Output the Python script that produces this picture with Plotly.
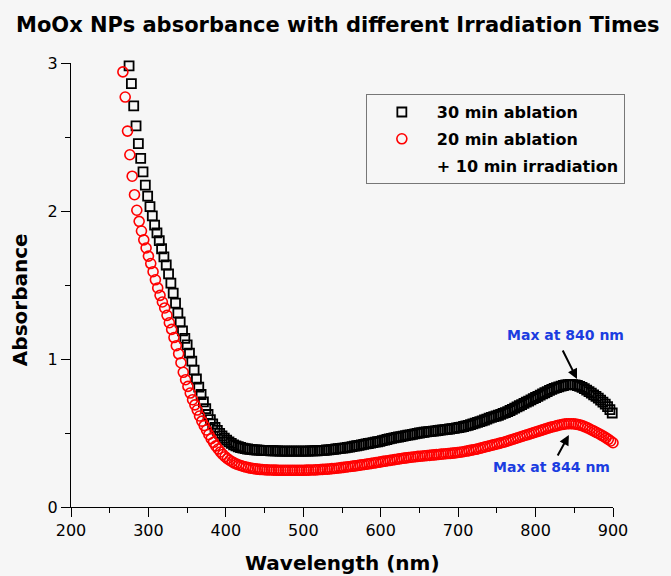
import plotly.graph_objects as go

# ---- data ----
black_start, black_step = 275, 3   # 30 min ablation: 275 .. 899 nm
black_abs = [
    2.98, 2.86, 2.71, 2.575, 2.455, 2.355, 2.265, 2.175, 2.10, 2.03,
    1.967, 1.905, 1.852, 1.80, 1.745, 1.69, 1.635, 1.575, 1.512, 1.445,
    1.378, 1.31, 1.25, 1.19, 1.14, 1.095, 1.04, 0.985, 0.925, 0.865,
    0.81, 0.76, 0.71, 0.665, 0.625, 0.59, 0.562, 0.538, 0.518, 0.498,
    0.48, 0.465, 0.452, 0.44, 0.43, 0.42, 0.413, 0.407, 0.402, 0.398,
    0.395, 0.392, 0.39, 0.388, 0.386, 0.385, 0.384, 0.383, 0.382, 0.381,
    0.381, 0.38, 0.38, 0.379, 0.379, 0.378, 0.378, 0.377, 0.377, 0.377,
    0.377, 0.377, 0.377, 0.377, 0.377, 0.377, 0.378, 0.378, 0.379, 0.379,
    0.38, 0.38, 0.381, 0.382, 0.383, 0.385, 0.386, 0.388, 0.39, 0.392,
    0.394, 0.396, 0.398, 0.40, 0.403, 0.405, 0.408, 0.411, 0.414, 0.417,
    0.42, 0.423, 0.426, 0.429, 0.432, 0.435, 0.438, 0.441, 0.444, 0.448,
    0.452, 0.456, 0.46, 0.464, 0.467, 0.47, 0.473, 0.476, 0.479, 0.482,
    0.485, 0.488, 0.491, 0.494, 0.497, 0.50, 0.502, 0.505, 0.507, 0.509,
    0.511, 0.513, 0.515, 0.517, 0.519, 0.521, 0.523, 0.525, 0.527, 0.529,
    0.531, 0.534, 0.537, 0.54, 0.544, 0.548, 0.552, 0.557, 0.562, 0.567,
    0.572, 0.577, 0.582, 0.588, 0.594, 0.60, 0.605, 0.61, 0.615, 0.62,
    0.626, 0.632, 0.638, 0.645, 0.652, 0.66, 0.668, 0.676, 0.684, 0.692,
    0.70, 0.708, 0.716, 0.724, 0.732, 0.74, 0.748, 0.756, 0.764, 0.772,
    0.78, 0.788, 0.795, 0.801, 0.807, 0.812, 0.817, 0.821, 0.825, 0.827,
    0.828, 0.827, 0.825, 0.821, 0.815, 0.808, 0.80, 0.79, 0.78, 0.769,
    0.758, 0.747, 0.735, 0.722, 0.709, 0.695, 0.678, 0.658, 0.635,
]

red_start, red_step = 267, 3       # 20 min ablation + 10 min irradiation: 267 .. 900 nm
red_abs = [
    2.94, 2.77, 2.54, 2.38, 2.235, 2.11, 2.005, 1.93, 1.865, 1.805,
    1.75, 1.695, 1.645, 1.59, 1.535, 1.48, 1.43, 1.385, 1.345, 1.295,
    1.245, 1.20, 1.145, 1.09, 1.035, 0.975, 0.91, 0.86, 0.815, 0.77,
    0.725, 0.69, 0.655, 0.615, 0.58, 0.55, 0.52, 0.49, 0.462, 0.437,
    0.413, 0.392, 0.372, 0.355, 0.34, 0.327, 0.316, 0.306, 0.297, 0.29,
    0.284, 0.279, 0.274, 0.27, 0.266, 0.263, 0.26, 0.258, 0.256, 0.254,
    0.253, 0.252, 0.251, 0.25, 0.25, 0.249, 0.249, 0.248, 0.248, 0.248,
    0.248, 0.248, 0.248, 0.248, 0.248, 0.248, 0.248, 0.248, 0.248, 0.249,
    0.249, 0.25, 0.25, 0.251, 0.252, 0.253, 0.254, 0.255, 0.256, 0.257,
    0.259, 0.26, 0.262, 0.264, 0.266, 0.268, 0.27, 0.272, 0.274, 0.276,
    0.278, 0.28, 0.283, 0.285, 0.287, 0.29, 0.292, 0.295, 0.297, 0.30,
    0.302, 0.305, 0.308, 0.31, 0.313, 0.315, 0.318, 0.32, 0.323, 0.325,
    0.328, 0.33, 0.332, 0.334, 0.336, 0.338, 0.34, 0.342, 0.343, 0.345,
    0.346, 0.348, 0.349, 0.351, 0.352, 0.354, 0.355, 0.357, 0.358, 0.36,
    0.361, 0.362, 0.364, 0.366, 0.368, 0.37, 0.372, 0.375, 0.378, 0.381,
    0.384, 0.387, 0.39, 0.394, 0.398, 0.402, 0.406, 0.41, 0.414, 0.418,
    0.422, 0.426, 0.43, 0.434, 0.438, 0.443, 0.448, 0.453, 0.458, 0.463,
    0.468, 0.473, 0.478, 0.483, 0.488, 0.493, 0.498, 0.503, 0.508, 0.513,
    0.518, 0.523, 0.528, 0.533, 0.538, 0.542, 0.546, 0.55, 0.554, 0.557,
    0.56, 0.562, 0.563, 0.563, 0.562, 0.56, 0.557, 0.553, 0.548, 0.542,
    0.535, 0.527, 0.519, 0.511, 0.503, 0.495, 0.486, 0.477, 0.467, 0.457,
    0.446, 0.434,
]

black_nm = [black_start + black_step * i for i in range(len(black_abs))]
red_nm = [red_start + red_step * i for i in range(len(red_abs))]

series_names = ["30 min ablation", "20 min ablation", "+ 10 min irradiation"]
x_ticks = [200, 300, 400, 500, 600, 700, 800, 900]
y_ticks = [0, 1, 2, 3]
peak_labels = ["Max at 840 nm", "Max at 844 nm"]

FONT = "DejaVu Sans"
BG = "#f6f6f6"
BLUE = "#1b3de0"

fig = go.Figure()
fig.add_trace(go.Scatter(
    x=black_nm, y=black_abs, mode="markers", name="<b>" + series_names[0] + "</b>",
    legendgroup="a", cliponaxis=False,
    marker=dict(symbol="square-open", size=9, color="black", line=dict(width=1.8)),
))
fig.add_trace(go.Scatter(
    x=red_nm, y=red_abs, mode="markers", name="<b>" + series_names[1] + "</b>",
    legendgroup="b", cliponaxis=False,
    marker=dict(symbol="circle-open", size=10, color="#ff0000", line=dict(width=1.6)),
))
# legend continuation line (no data)
fig.add_trace(go.Scatter(
    x=[None], y=[None], mode="markers", name="<b>" + series_names[2] + "</b>",
    legendgroup="c", hoverinfo="skip",
    marker=dict(symbol="circle-open", size=10, color="rgba(0,0,0,0)", opacity=0),
))

axis_common = dict(
    showline=True, linecolor="black", linewidth=1.3, mirror=False,
    ticks="outside", ticklen=9, tickwidth=1.3, tickcolor="black",
    showgrid=False, zeroline=False,
    tickfont=dict(family=FONT, size=16, color="black"),
)

fig.update_xaxes(range=[200, 900], tickvals=x_ticks,
                 minor=dict(dtick=50, ticklen=5, tickwidth=1.3, tickcolor="black", ticks="outside", showgrid=False),
                 **axis_common)
fig.update_yaxes(range=[0, 3], tickvals=y_ticks,
                 minor=dict(dtick=0.5, ticklen=5, tickwidth=1.3, tickcolor="black", ticks="outside", showgrid=False),
                 **axis_common)

annotations = [
    dict(text="<b>MoOx NPs absorbance with different Irradiation Times</b>",
         xref="paper", yref="paper", x=-0.105, y=1.0856, xanchor="left", yanchor="middle",
         showarrow=False, font=dict(family=FONT, size=21, color="black")),
    dict(text="<b>Absorbance</b>", textangle=-90,
         xref="paper", yref="paper", x=-0.094, y=0.466, xanchor="center", yanchor="middle",
         showarrow=False, font=dict(family=FONT, size=20, color="black")),
    dict(text="<b>Wavelength (nm)</b>",
         xref="paper", yref="paper", x=0.5, y=-0.126, xanchor="center", yanchor="middle",
         showarrow=False, font=dict(family=FONT, size=20, color="black")),
    dict(text="<b>" + peak_labels[0] + "</b>", x=839, y=1.162, xref="x", yref="y",
         showarrow=False, font=dict(family=FONT, size=14, color=BLUE)),
    dict(text="<b>" + peak_labels[1] + "</b>", x=820, y=0.27, xref="x", yref="y",
         showarrow=False, font=dict(family=FONT, size=14, color=BLUE)),
    dict(text="", x=853.5, y=0.865, xref="x", yref="y", showarrow=True,
         ax=-15, ay=-30, arrowhead=2, arrowsize=1, arrowwidth=2, arrowcolor="black"),
    dict(text="", x=843, y=0.486, xref="x", yref="y", showarrow=True,
         ax=-12, ay=22, arrowhead=2, arrowsize=1, arrowwidth=2, arrowcolor="black"),
]

fig.update_layout(
    width=671, height=576,
    margin=dict(l=71, r=58, t=63, b=69),
    paper_bgcolor=BG, plot_bgcolor=BG,
    font=dict(family=FONT, color="black"),
    annotations=annotations,
    showlegend=True,
    legend=dict(
        x=0.544, y=0.93, xanchor="left", yanchor="top",
        bgcolor=BG, bordercolor="#777777", borderwidth=1,
        font=dict(family=FONT, size=16, color="black"),
        tracegroupgap=3, itemwidth=60, itemclick=False,
    ),
)

fig.write_html(
    "out.html",
    config={"displayModeBar": False},
    post_script="document.body.style.margin='0';document.body.style.background='#f6f6f6';",
)
